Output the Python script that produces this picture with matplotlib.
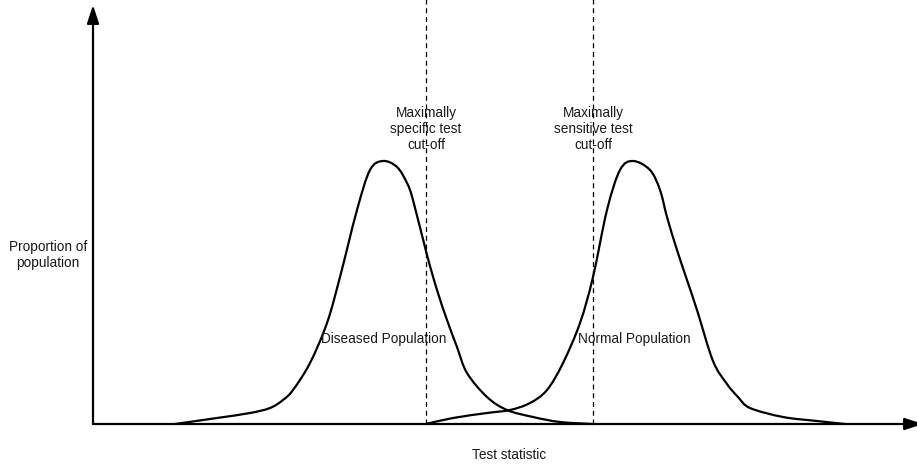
import numpy as np
import matplotlib
matplotlib.use("Agg")
import matplotlib.pyplot as plt
from matplotlib.path import Path
from matplotlib.patches import PathPatch

plt.rcParams['font.family'] = ['Liberation Sans', 'DejaVu Sans']

# curves (test statistic, proportion) in arbitrary units
diseased_x = [82, 124, 157, 177, 190, 200, 217, 234, 247, 264, 277, 290, 304, 314,
              320, 334, 344, 354, 364, 374, 394, 414, 440, 467, 500]
diseased_y = [0, 6, 11, 16, 24, 34, 61, 101, 147, 214, 254, 263, 257, 241,
              224, 169, 134, 104, 77, 51, 27, 14, 7, 2, 0]

normal_x = [333, 360, 394, 417, 437, 454, 470, 487, 500, 514, 527, 540, 557, 567,
            574, 584, 594, 604, 620, 634, 645, 657, 690, 724, 752]
normal_y = [0, 6, 11, 14, 21, 34, 61, 101, 147, 214, 254, 263, 254, 234,
            207, 174, 144, 114, 63, 40, 27, 16, 7, 3, 0]

cutoffs = [333, 500]
cutoff_labels = ["Maximally\nspecific test\ncut-off", "Maximally\nsensitive test\ncut-off"]
pop_labels = ["Diseased Population", "Normal Population"]
pop_label_x = [291, 541]


def smooth_path(xs, ys):
    # catmull-rom through the read points, drawn as cubic beziers
    p = np.column_stack([xs, ys]).astype(float)
    n = len(p)
    verts = [p[0]]
    codes = [Path.MOVETO]
    for i in range(n - 1):
        p0 = p[i - 1] if i > 0 else p[i]
        p1 = p[i]
        p2 = p[i + 1]
        p3 = p[i + 2] if i + 2 < n else p[i + 1]
        verts += [p1 + (p2 - p0) / 6, p2 - (p3 - p1) / 6, p2]
        codes += [Path.CURVE4] * 3
    return Path(verts, codes)


fig = plt.figure(figsize=(9.17, 4.65), dpi=100)
ax = fig.add_axes([0, 0, 1, 1])
ax.set_xlim(-93, 824)
ax.set_ylim(-41, 424)
ax.axis('off')

for xs, ys in [(diseased_x, diseased_y), (normal_x, normal_y)]:
    ax.add_patch(PathPatch(smooth_path(xs, ys), fill=False, lw=1.6,
                           edgecolor='black', capstyle='round', joinstyle='round'))

for c in cutoffs:
    ax.plot([c, c], [0, 430], color='black', lw=0.9, linestyle=(0, (4, 3)))

# axes with arrow heads
arrow = dict(arrowstyle='-|>,head_length=1.1,head_width=0.36', lw=1.6,
             color='black', shrinkA=0, shrinkB=0, mutation_scale=10)
ax.annotate('', xy=(0, 419), xytext=(0, 0), arrowprops=arrow, annotation_clip=False)
ax.annotate('', xy=(830, 0), xytext=(0, 0), arrowprops=arrow, annotation_clip=False)

txt = dict(fontsize=9.8, color='#1a1a1a', ha='center', va='center', linespacing=1.15)
for c, lab in zip(cutoffs, cutoff_labels):
    ax.text(c, 295, lab, **txt)
for x, lab in zip(pop_label_x, pop_labels):
    ax.text(x, 85, lab, **txt)

ax.text(-45, 169, "Proportion of\npopulation", **txt)
ax.text(416, -31, "Test statistic", **txt)

fig.savefig("out.png", dpi=100)
